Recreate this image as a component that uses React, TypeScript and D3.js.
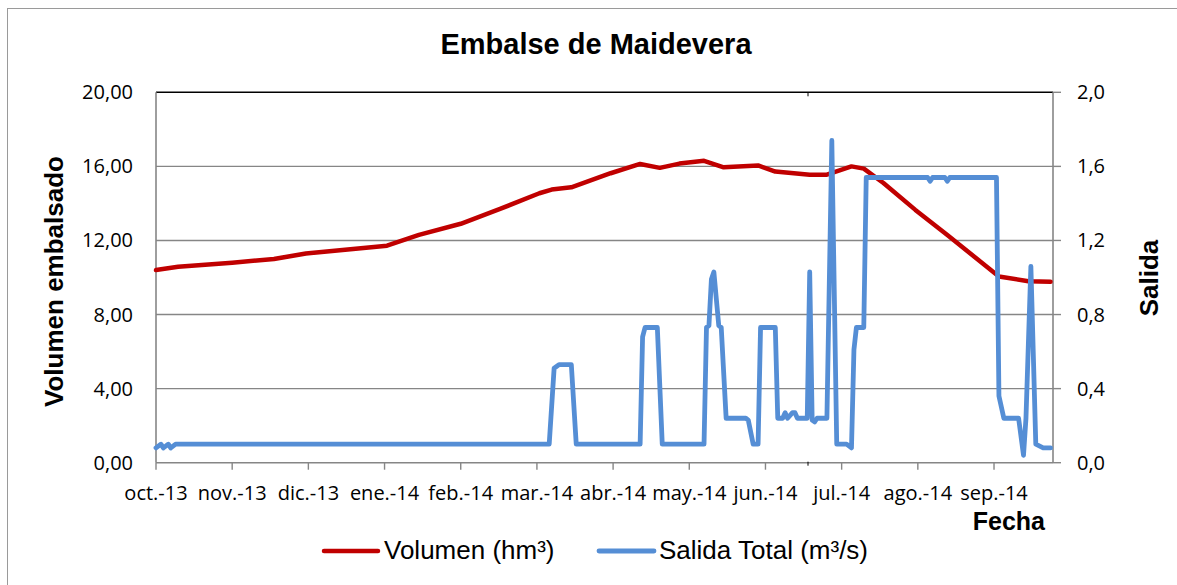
import * as d3 from "d3";

// Volumen embalsado (hm³), left axis
const volDates = [
  "2013-10-01", "2013-10-10", "2013-11-01", "2013-11-18", "2013-12-01",
  "2014-01-03", "2014-01-16", "2014-02-02", "2014-02-18", "2014-03-06",
  "2014-03-11", "2014-03-19", "2014-04-04", "2014-04-16", "2014-04-24",
  "2014-05-02", "2014-05-12", "2014-05-20", "2014-06-03", "2014-06-10",
  "2014-06-24", "2014-07-01", "2014-07-11", "2014-07-16", "2014-07-24",
  "2014-08-06", "2014-08-19", "2014-08-30", "2014-09-09", "2014-09-21",
  "2014-09-30",
];
const volValues = [
  10.4, 10.58, 10.8, 11.0, 11.3,
  11.72, 12.3, 12.9, 13.7, 14.55,
  14.75, 14.87, 15.63, 16.13, 15.92,
  16.15, 16.3, 15.95, 16.05, 15.72,
  15.55, 15.55, 16.0, 15.88, 15.1,
  13.65, 12.3, 11.12, 10.05, 9.8,
  9.77,
];

// Salida total (m³/s), right axis
const salDates = [
  "2013-10-01", "2013-10-03", "2013-10-04", "2013-10-06", "2013-10-07",
  "2013-10-09", "2014-03-10", "2014-03-12", "2014-03-14", "2014-03-19",
  "2014-03-21", "2014-04-16", "2014-04-17", "2014-04-18", "2014-04-23",
  "2014-04-25", "2014-05-12", "2014-05-13", "2014-05-14", "2014-05-15",
  "2014-05-16", "2014-05-18", "2014-05-19", "2014-05-21", "2014-05-29",
  "2014-05-30", "2014-06-01", "2014-06-03", "2014-06-04", "2014-06-10",
  "2014-06-11", "2014-06-13", "2014-06-14", "2014-06-15", "2014-06-17",
  "2014-06-18", "2014-06-19", "2014-06-23", "2014-06-24", "2014-06-25",
  "2014-06-26", "2014-06-27", "2014-07-01", "2014-07-03", "2014-07-05",
  "2014-07-09", "2014-07-11", "2014-07-12", "2014-07-13", "2014-07-16",
  "2014-07-17", "2014-08-11", "2014-08-12", "2014-08-13", "2014-08-18",
  "2014-08-19", "2014-08-20", "2014-09-08", "2014-09-09", "2014-09-11",
  "2014-09-17", "2014-09-19", "2014-09-20", "2014-09-22", "2014-09-24",
  "2014-09-27", "2014-09-30",
];
const salValues = [
  0.08, 0.1, 0.08, 0.1, 0.08,
  0.1, 0.1, 0.51, 0.53, 0.53,
  0.1, 0.1, 0.68, 0.73, 0.73,
  0.1, 0.1, 0.73, 0.74, 0.99,
  1.03, 0.74, 0.73, 0.24, 0.24,
  0.23, 0.1, 0.1, 0.73, 0.73,
  0.24, 0.24, 0.27, 0.24, 0.27,
  0.27, 0.24, 0.24, 1.03, 0.23,
  0.22, 0.24, 0.24, 1.74, 0.1,
  0.1, 0.08, 0.61, 0.73, 0.73,
  1.54, 1.54, 1.52, 1.54, 1.54,
  1.52, 1.54, 1.54, 0.36, 0.24,
  0.24, 0.04, 0.24, 1.06, 0.1,
  0.08, 0.08,
];

const monthLabels = [
  "oct.-13", "nov.-13", "dic.-13", "ene.-14", "feb.-14", "mar.-14",
  "abr.-14", "may.-14", "jun.-14", "jul.-14", "ago.-14", "sep.-14",
];
const leftTicks = [0, 4, 8, 12, 16, 20];
const rightTicks = [0, 0.4, 0.8, 1.2, 1.6, 2.0];

const W = 1177;
const H = 585;
const plot = { left: 156, right: 1053, top: 92.3, bottom: 462.7 };
const GRID = "#868686";
const RED = "#C00000";
const BLUE = "#558ED5";
const sans = "'Liberation Sans', Arial, sans-serif";
const tickFont = "'Open Sans', sans-serif";

const parse = d3.utcParse("%Y-%m-%d");
const start = parse("2013-10-01")!;

export default function App() {
  const x = d3
    .scaleUtc()
    .domain([start, d3.utcDay.offset(start, 365)])
    .range([plot.left, plot.right]);
  const yL = d3.scaleLinear().domain([0, 20]).range([plot.bottom, plot.top]);
  const yR = d3.scaleLinear().domain([0, 2]).range([plot.bottom, plot.top]);

  // excel date axis: one tick every 31 days
  const xTicks = monthLabels.map((_, i) => d3.utcDay.offset(start, 31 * i));

  const volLine = d3
    .line<number>()
    .x((i) => x(parse(volDates[i])!))
    .y((i) => yL(volValues[i]));
  const salLine = d3
    .line<number>()
    .x((i) => x(parse(salDates[i])!))
    .y((i) => yR(salValues[i]));

  const fmtL = (v: number) => v.toFixed(2).replace(".", ",");
  const fmtR = (v: number) => v.toFixed(1).replace(".", ",");

  return (
    <div style={{ position: "absolute", left: 0, top: 0 }}>
      <svg width={W} height={H} style={{ display: "block", background: "#fff" }}>
        <rect x={7.5} y={8.5} width={1200} height={600} fill="#fff" stroke="#9a9a9a" strokeWidth={1} />

        <text x={596} y={54} textAnchor="middle" fontFamily={sans} fontWeight="bold" fontSize={29}>
          Embalse de Maidevera
        </text>

        {/* gridlines */}
        {leftTicks.slice(1, -1).map((t) => (
          <line key={t} x1={plot.left} x2={plot.right} y1={yL(t)} y2={yL(t)} stroke={GRID} strokeWidth={1.4} />
        ))}
        <line x1={plot.left} x2={plot.right} y1={plot.top} y2={plot.top} stroke="#000" strokeWidth={1.4} />
        <line x1={808} x2={808} y1={plot.top} y2={plot.top + 4} stroke="#000" strokeWidth={1} />

        {/* axes */}
        <line x1={plot.left} x2={plot.left} y1={plot.top} y2={plot.bottom} stroke={GRID} strokeWidth={1.6} />
        <line x1={plot.right} x2={plot.right} y1={plot.top} y2={plot.bottom} stroke={GRID} strokeWidth={1.6} />
        <line x1={plot.left} x2={plot.right} y1={plot.bottom} y2={plot.bottom} stroke={GRID} strokeWidth={1.6} />
        <line x1={808} x2={808} y1={plot.bottom - 1} y2={plot.bottom + 3} stroke="#000" strokeWidth={1} />

        {rightTicks.map((t) => (
          <g key={t}>
            <line x1={plot.right} x2={plot.right + 8} y1={yR(t)} y2={yR(t)} stroke={GRID} strokeWidth={1.4} />
            <text x={1077} y={yR(t)} dy="0.35em" fontFamily={tickFont} fontSize={20} fill="#000">
              {fmtR(t)}
            </text>
          </g>
        ))}
        {leftTicks.map((t) => (
          <text key={t} x={133} y={yL(t)} dy="0.35em" textAnchor="end" fontFamily={tickFont} fontSize={20} fill="#000">
            {fmtL(t)}
          </text>
        ))}
        {xTicks.map((d, i) => (
          <g key={i}>
            <line x1={x(d)} x2={x(d)} y1={plot.bottom} y2={plot.bottom + 7} stroke={GRID} strokeWidth={1.4} />
            <text x={x(d)} y={500} textAnchor="middle" fontFamily={tickFont} fontSize={20} fill="#000">
              {monthLabels[i]}
            </text>
          </g>
        ))}

        {/* series */}
        <path
          d={volLine(d3.range(volDates.length)) ?? ""}
          fill="none"
          stroke={RED}
          strokeWidth={4.5}
          strokeLinejoin="round"
          strokeLinecap="round"
        />
        <path
          d={salLine(d3.range(salDates.length)) ?? ""}
          fill="none"
          stroke={BLUE}
          strokeWidth={4.8}
          strokeLinejoin="round"
          strokeLinecap="round"
        />

        {/* axis titles */}
        <text transform="translate(63,281.5) rotate(-90)" textAnchor="middle" fontFamily={sans} fontWeight="bold" fontSize={26}>
          Volumen embalsado
        </text>
        <text transform="translate(1158,278) rotate(-90)" textAnchor="middle" fontFamily={sans} fontWeight="bold" fontSize={26}>
          Salida
        </text>
        <text x={1045} y={530} textAnchor="end" fontFamily={sans} fontWeight="bold" fontSize={25}>
          Fecha
        </text>

        {/* legend */}
        <line x1={324} x2={378} y1={551} y2={551} stroke={RED} strokeWidth={4.5} strokeLinecap="round" />
        <text x={384} y={559} fontFamily={sans} fontSize={26}>
          Volumen (hm³)
        </text>
        <line x1={599} x2={654} y1={551} y2={551} stroke={BLUE} strokeWidth={4.8} strokeLinecap="round" />
        <text x={659} y={559} fontFamily={sans} fontSize={26}>
          Salida Total (m³/s)
        </text>
      </svg>
    </div>
  );
}
